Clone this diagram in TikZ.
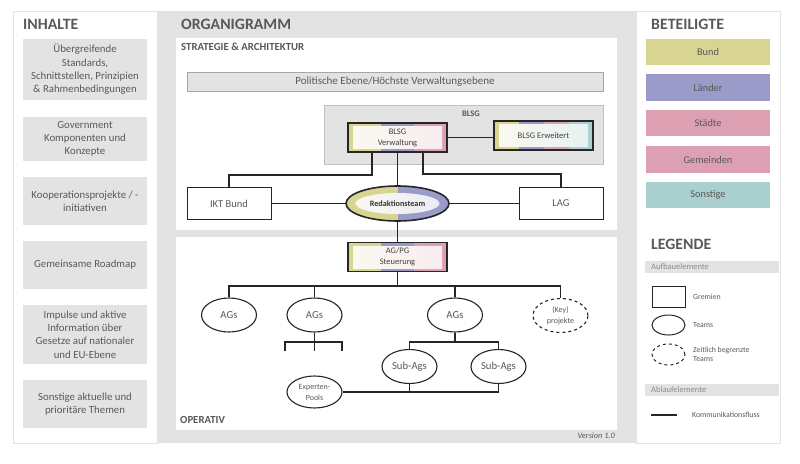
\documentclass[tikz,border=0pt]{standalone}
\usepackage{fontspec}
\setmainfont{Carlito}
\usetikzlibrary{shapes.geometric}
\definecolor{panelgray}{HTML}{E3E3E3}
\definecolor{inktext}{HTML}{595959}
\definecolor{inkline}{HTML}{262626}
\definecolor{bund}{HTML}{D8D592}
\definecolor{laender}{HTML}{9A9BC9}
\definecolor{staedte}{HTML}{DD9FB2}
\definecolor{sonstige}{HTML}{A9CFCF}
\tikzset{
  panel/.style={draw=panelgray, fill=white, line width=1pt},
  title/.style={anchor=west, inner sep=0, text=inktext, font=\fontsize{15.8}{17}\selectfont\bfseries},
  subtitle/.style={anchor=west, inner sep=0, text=inktext, font=\fontsize{10.8}{12}\selectfont\bfseries},
  topic/.style={fill=panelgray, minimum width=124, inner sep=0, align=center, text=inktext, font=\fontsize{10.8}{13.3}\selectfont},
  party/.style={minimum width=124, minimum height=26.5, inner sep=0, text=inktext, font=\fontsize{10.3}{12}\selectfont},
  gremium/.style={draw=inkline, fill=white, line width=1pt, minimum width=84, minimum height=32, inner sep=0, text=inktext, font=\fontsize{10.5}{12}\selectfont},
  team/.style={ellipse, draw=inkline, fill=white, line width=1.1pt, minimum width=55, minimum height=34, inner sep=0, align=center, text=inktext, font=\fontsize{10.7}{12}\selectfont},
  keyteam/.style={team, dashed, font=\fontsize{8}{11}\selectfont},
  expert/.style={team, font=\fontsize{8}{11}\selectfont},
  flow/.style={draw=inkline, line width=1.7pt},
  band/.style={fill=panelgray, minimum width=134, minimum height=12, inner sep=0},
  legendtext/.style={anchor=west, inner sep=0, align=left, text=inktext, font=\fontsize{7.8}{9.5}\selectfont},
  bandtext/.style={anchor=west, inner sep=0, text=black!45, font=\fontsize{8.5}{10}\selectfont},
  threebox/.style={draw=inkline, line width=1.6pt, inner sep=0, align=center, minimum width=99, minimum height=29,
    text=black!75, font=\fontsize{8.5}{11}\selectfont,
    path picture={
      \fill [bund] (path picture bounding box.south west) rectangle ([xshift=33pt]path picture bounding box.north west);
      \fill [laender] ([xshift=33pt]path picture bounding box.south west) rectangle ([xshift=66pt]path picture bounding box.north west);
      \fill [staedte] ([xshift=66pt]path picture bounding box.south west) rectangle (path picture bounding box.north east);
      \shade [left color=bund!14, middle color=laender!8, right color=staedte!20]
        ([shift={(5pt,3.5pt)}]path picture bounding box.south west) rectangle ([shift={(-5pt,-3.5pt)}]path picture bounding box.north east);
    }},
  fourbox/.style={draw=inkline, line width=1.6pt, inner sep=0, minimum width=99, minimum height=29,
    text=black!75, font=\fontsize{8.5}{11}\selectfont,
    path picture={
      \fill [bund] (path picture bounding box.south west) rectangle ([xshift=25pt]path picture bounding box.north west);
      \fill [laender] ([xshift=25pt]path picture bounding box.south west) rectangle ([xshift=50pt]path picture bounding box.north west);
      \fill [staedte] ([xshift=50pt]path picture bounding box.south west) rectangle ([xshift=75pt]path picture bounding box.north west);
      \fill [sonstige] ([xshift=75pt]path picture bounding box.south west) rectangle (path picture bounding box.north east);
      \shade [left color=bund!14, middle color=staedte!10, right color=sonstige!28]
        ([shift={(5pt,3.5pt)}]path picture bounding box.south west) rectangle ([shift={(-5pt,-3.5pt)}]path picture bounding box.north east);
    }},
  twoteam/.style={ellipse, draw=inkline, line width=1.6pt, inner sep=0, minimum width=103, minimum height=35,
    text=black!80, font=\fontsize{8.2}{10}\selectfont\bfseries,
    path picture={
      \fill [bund] (path picture bounding box.south west) rectangle (path picture bounding box.north);
      \fill [laender] (path picture bounding box.south) rectangle (path picture bounding box.north east);
      \shade [left color=bund!14, right color=laender!20] (path picture bounding box.center) ellipse [x radius=42pt, y radius=10.5pt];
    }},
}
\begin{document}
\begin{tikzpicture}[x=1pt, y=-1pt]
\useasboundingbox (0, 0) rectangle (800, 463);

\draw [panel] (13, 11) rectangle (157, 443);
\fill [panelgray] (157, 11) rectangle (636, 443);
\draw [panel] (636, 11) rectangle (780, 443);
\fill [white] (176, 38) rectangle (617, 230);
\fill [white] (176, 237) rectangle (617, 430);
\draw [draw=black!25, fill=panelgray] (324, 105) rectangle (603, 164);

\node [title] (inhalte) at (23, 24) {INHALTE};
\node [title] (organigramm) at (181, 24) {ORGANIGRAMM};
\node [title] (beteiligte) at (651, 24) {BETEILIGTE};
\node [title] (legende) at (651, 244) {LEGENDE};
\node [subtitle] (strategie) at (181, 47) {STRATEGIE \& ARCHITEKTUR};
\node [subtitle] (operativ) at (180, 420) {OPERATIV};
\node [anchor=east, inner sep=0, text=inktext, font=\fontsize{8.3}{10}\selectfont\itshape] (version) at (615, 436) {Version 1.0};

\node [topic, minimum height=61] (topic1) at (85, 69.5) {Übergreifende\\Standards,\\Schnittstellen, Prinzipien\\\& Rahmenbedingungen};
\node [topic, minimum height=44] (topic2) at (85, 139) {Government\\Komponenten und\\Konzepte};
\node [topic, minimum height=48] (topic3) at (85, 201) {Kooperationsprojekte / -\\initiativen};
\node [topic, minimum height=48] (topic4) at (85, 265) {Gemeinsame Roadmap};
\node [topic, minimum height=59] (topic5) at (85, 334.5) {Impulse und aktive\\Information über\\Gesetze auf nationaler\\und EU-Ebene};
\node [topic, minimum height=48] (topic6) at (85, 404) {Sonstige aktuelle und\\prioritäre Themen};

\node [party, fill=bund] (bundbox) at (708, 52) {Bund};
\node [party, fill=laender] (laenderbox) at (708, 87.5) {Länder};
\node [party, fill=staedte] (staedtebox) at (708, 123) {Städte};
\node [party, fill=staedte] (gemeindenbox) at (708, 159.5) {Gemeinden};
\node [party, fill=sonstige] (sonstigebox) at (708, 195) {Sonstige};

\node [draw=black!35, fill=panelgray, minimum width=416, minimum height=19, inner sep=0, text=inktext, font=\fontsize{11}{12}\selectfont] (politik) at (395, 81.5) {Politische Ebene/Höchste Verwaltungsebene};
\node [inner sep=0, text=inktext, font=\fontsize{8.5}{10}\selectfont\bfseries] (blsg) at (471, 114) {BLSG};

\node [threebox] (verwaltung) at (397.5, 137.5) {BLSG\\Verwaltung};
\node [fourbox] (erweitert) at (543.5, 135.5) {BLSG Erweitert};
\node [gremium] (ikt) at (229, 203.5) {IKT Bund};
\node [gremium] (lag) at (561, 203.5) {LAG};
\node [twoteam] (redaktion) at (397.5, 203.5) {Redaktionsteam};
\node [threebox] (agpg) at (397.5, 257) {AG/PG\\Steuerung};

\node [team] (ags1) at (229, 315) {AGs};
\node [team] (ags2) at (314.5, 315) {AGs};
\node [team] (ags3) at (455, 315) {AGs};
\node [keyteam] (key) at (560.5, 315.5) {(Key)\\projekte};
\node [team] (sub1) at (409.5, 366.5) {Sub-Ags};
\node [team] (sub2) at (498.5, 366.5) {Sub-Ags};
\node [expert, minimum height=32] (experten) at (314.5, 392) {Experten-\\Pools};

\coordinate (busleft) at (229, 286);
\coordinate (busright) at (560.5, 286);
\coordinate (forkleft) at (285, 342);
\coordinate (forkright) at (342, 342);
\coordinate (toothleft) at (285, 351);
\coordinate (toothmid) at (314.5, 351);
\coordinate (toothright) at (342, 351);
\coordinate (subleft) at (409.5, 342);
\coordinate (subright) at (498.5, 342);

\draw [flow] ([xshift=25pt]verwaltung.south west) -- ++(0, 22) -| (ikt.north);
\draw [flow] (verwaltung.south) -- (redaktion.north);
\draw [flow] ([xshift=-25pt]verwaltung.south east) -- ++(0, 21) -| (lag.north);
\draw [flow] (verwaltung.east) -- (verwaltung.east -| erweitert.west);
\draw [flow] (ikt.east) -- (redaktion.west);
\draw [flow] (redaktion.east) -- (lag.west);
\draw [flow] (redaktion.south) -- (agpg.north);

\draw [flow] (ags1.north) -- (busleft) -- (busright) -- (key.north);
\draw [flow] (agpg.south) -- (agpg.south |- busleft);
\draw [flow] (ags2.north) -- (ags2.north |- busleft);
\draw [flow] (ags3.north) -- (ags3.north |- busleft);

\draw [flow] (ags2.south) -- (toothmid);
\draw [flow] (toothleft) -- (forkleft) -- (forkright) -- (toothright);

\draw [flow] (ags3.south) -- (ags3.south |- subleft);
\draw [flow] (sub1.north) -- (subleft) -- (subright) -- (sub2.north);

\draw [flow] (experten.east) -| (sub2.south);
\draw [flow] (sub1.south) -- (sub1.south |- experten.east);

\node [band] (aufbau) at (712, 267) {};
\node [bandtext] (aufbautext) at (651, 267) {Aufbauelemente};
\node [draw=inkline, line width=1pt, minimum width=33, minimum height=21, inner sep=0] (legrect) at (668.5, 296.5) {};
\node [legendtext] (legrecttext) at (693, 296.5) {Gremien};
\node [ellipse, draw=inkline, line width=1pt, minimum width=33, minimum height=20, inner sep=0] (legteam) at (668.5, 325) {};
\node [legendtext] (legteamtext) at (693, 325.5) {Teams};
\node [ellipse, draw=inkline, dashed, line width=1pt, minimum width=33, minimum height=21, inner sep=0] (legkey) at (668.5, 354.5) {};
\node [legendtext] (legkeytext) at (693, 354.5) {Zeitlich begrenzte\\Teams};
\node [band] (ablauf) at (712, 390) {};
\node [bandtext] (ablauftext) at (651, 390) {Ablaufelemente};
\coordinate (legflow) at (651, 415);
\coordinate (legflowend) at (677, 415);
\node [legendtext] (legflowtext) at (692, 414.5) {Kommunikationsfluss};
\draw [flow] (legflow) -- (legflowend);
\end{tikzpicture}
\end{document}
